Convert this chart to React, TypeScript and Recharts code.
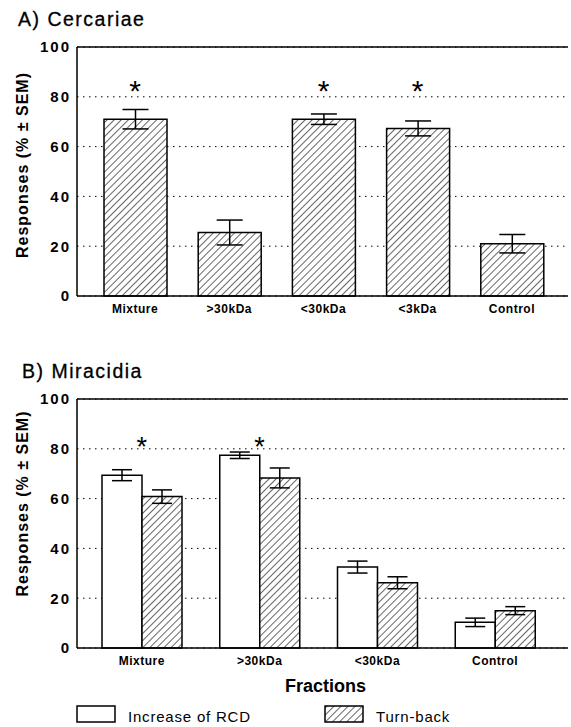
import { BarChart, Bar, XAxis, YAxis, CartesianGrid, ErrorBar, ReferenceLine, ReferenceDot, Legend } from "recharts";

const fractionsA = ["Mixture", ">30kDa", "<30kDa", "<3kDa", "Control"];
const turnBackA = [71, 25.5, 71, 67.3, 21];
const semA = [3.9, 5, 2.1, 3, 3.7];
const starsA = ["Mixture", "<30kDa", "<3kDa"];

const fractionsB = ["Mixture", ">30kDa", "<30kDa", "Control"];
const rcdB = [69.4, 77.4, 32.5, 10.3];
const rcdSemB = [2.2, 1.3, 2.4, 1.7];
const turnBackB = [60.8, 68.3, 26.2, 15];
const turnSemB = [2.7, 4, 2.4, 1.6];
const starsB = ["Mixture", ">30kDa"];

const yTicks = [0, 20, 40, 60, 80, 100];
const seriesB = [
  { key: "rcd", name: "Increase of RCD", fill: "#fff" },
  { key: "turn", name: "Turn-back", fill: "url(#hatchB)" },
];

const dataA = fractionsA.map((f, i) => ({ fraction: f, turn: turnBackA[i], sem: semA[i] }));
const dataB = fractionsB.map((f, i) => ({
  fraction: f,
  rcd: rcdB[i],
  rcdSem: rcdSemB[i],
  turn: turnBackB[i],
  turnSem: turnSemB[i],
}));

const FONT = "'Liberation Sans', Arial, sans-serif";
const axisStyle = { stroke: "#000", strokeWidth: 1.5 };
const yTick = { fill: "#000", fontSize: 15, fontWeight: 700, letterSpacing: 2, fontFamily: FONT };
const xTick = { fill: "#000", fontSize: 12, fontWeight: 700, letterSpacing: 0.5, fontFamily: FONT };

const hatch = (id: string) => (
  <pattern id={id} patternUnits="userSpaceOnUse" width="5" height="5" patternTransform="rotate(45)">
    <rect width="5" height="5" fill="#fff" />
    <line x1="0" y1="0" x2="0" y2="5" stroke="#000" strokeWidth="1.2" />
  </pattern>
);

const yLabel = (shift: number) => (props: any) => {
  const vb = props.viewBox;
  const cx = vb.x - 15;
  const cy = vb.y + vb.height / 2 + shift;
  return (
    <text
      x={cx}
      y={cy}
      transform={`rotate(-90, ${cx}, ${cy})`}
      textAnchor="middle"
      dominantBaseline="central"
      fontSize={16}
      fontWeight={700}
      letterSpacing={1}
      fontFamily={FONT}
      fill="#000"
    >
      Responses (% ± SEM)
    </text>
  );
};

// asterisk glyph centred on (cx, cy)
const star = (size: number) => (p: any) => (
  <text x={p.cx} y={p.cy + size * 0.55} textAnchor="middle" fontSize={size} fontFamily={FONT} fill="#000">
    *
  </text>
);

const legendX = [77, 325];
const renderLegend = (props: any) => (
  <svg width={571} height={34} style={{ display: "block" }}>
    <defs>{hatch("hatchL")}</defs>
    {(props.payload || []).map((entry: any, i: number) => (
      <g key={entry.value}>
        <rect
          x={legendX[i]}
          y={13}
          width={38}
          height={16}
          fill={i === 0 ? "#fff" : "url(#hatchL)"}
          stroke="#000"
          strokeWidth={1.5}
        />
        <text x={legendX[i] + 51} y={29} fontSize={15} letterSpacing={0.8} fontFamily={FONT} fill="#000">
          {entry.value}
        </text>
      </g>
    ))}
  </svg>
);

const titleStyle = {
  position: "absolute" as const,
  fontFamily: FONT,
  fontSize: 19.5,
  letterSpacing: 1.5,
  lineHeight: "20px",
  color: "#000",
  WebkitTextStroke: "0.3px #000",
};

export default function App() {
  return (
    <div style={{ position: "absolute", left: 0, top: 0, width: 571, height: 727, background: "#fff", fontFamily: FONT }}>
      <div style={{ ...titleStyle, left: 18, top: 9 }}>A) Cercariae</div>
      <div style={{ ...titleStyle, left: 22, top: 361 }}>B) Miracidia</div>

      <div style={{ position: "absolute", left: 0, top: 0 }}>
        <BarChart width={571} height={330} data={dataA} margin={{ top: 47, right: 3, left: 37, bottom: 4 }}>
          <defs>{hatch("hatchA")}</defs>
          <CartesianGrid vertical={false} stroke="#000" strokeDasharray="1.5 4.5" />
          <XAxis
            dataKey="fraction"
            padding={{ left: 11, right: 9 }}
            axisLine={axisStyle}
            tickLine={false}
            tick={xTick}
            interval={0}
            height={30}
          />
          <YAxis
            domain={[0, 100]}
            ticks={yTicks}
            width={40}
            axisLine={axisStyle}
            tickLine={false}
            tickMargin={0}
            tick={yTick}
            label={{ content: yLabel(-6.5) }}
          />
          <ReferenceLine y={100} stroke="#000" strokeWidth={1.5} />
          <Bar dataKey="turn" fill="url(#hatchA)" stroke="#000" strokeWidth={1.5} barSize={63} isAnimationActive={false}>
            <ErrorBar dataKey="sem" width={13} stroke="#000" strokeWidth={1.5} isAnimationActive={false} />
          </Bar>
          {starsA.map((s) => (
            <ReferenceDot key={s} x={s} y={85} r={0} shape={star(30)} ifOverflow="visible" />
          ))}
        </BarChart>
      </div>

      <div style={{ position: "absolute", left: 0, top: 330 }}>
        <BarChart
          width={571}
          height={397}
          data={dataB}
          barGap={0}
          margin={{ top: 69, right: 3, left: 37, bottom: 0 }}
        >
          <defs>{hatch("hatchB")}</defs>
          <CartesianGrid vertical={false} stroke="#000" strokeDasharray="1.5 4.5" />
          <XAxis
            dataKey="fraction"
            padding={{ left: 6, right: 14 }}
            axisLine={axisStyle}
            tickLine={false}
            tick={xTick}
            interval={0}
            height={45}
            label={{
              content: (p: any) => (
                <text
                  x={p.viewBox.x + p.viewBox.width / 2 + 3}
                  y={p.viewBox.y + 44}
                  textAnchor="middle"
                  fontSize={18}
                  fontWeight={700}
                  fontFamily={FONT}
                  fill="#000"
                >
                  Fractions
                </text>
              ),
            }}
          />
          <YAxis
            domain={[0, 100]}
            ticks={yTicks}
            width={40}
            axisLine={axisStyle}
            tickLine={false}
            tickMargin={0}
            tick={yTick}
            label={{ content: yLabel(-20) }}
          />
          <ReferenceLine y={100} stroke="#000" strokeWidth={1.5} />
          <Legend
            verticalAlign="bottom"
            content={renderLegend}
            wrapperStyle={{ left: 0, width: 571, height: 34 }}
          />
          {seriesB.map((s) => (
            <Bar
              key={s.key}
              dataKey={s.key}
              name={s.name}
              fill={s.fill}
              stroke="#000"
              strokeWidth={1.5}
              barSize={40}
              isAnimationActive={false}
            >
              <ErrorBar dataKey={s.key + "Sem"} width={10} stroke="#000" strokeWidth={1.5} isAnimationActive={false} />
            </Bar>
          ))}
          {starsB.map((s) => (
            <ReferenceDot key={s} x={s} y={83.2} r={0} shape={star(27)} ifOverflow="visible" />
          ))}
        </BarChart>
      </div>
    </div>
  );
}
